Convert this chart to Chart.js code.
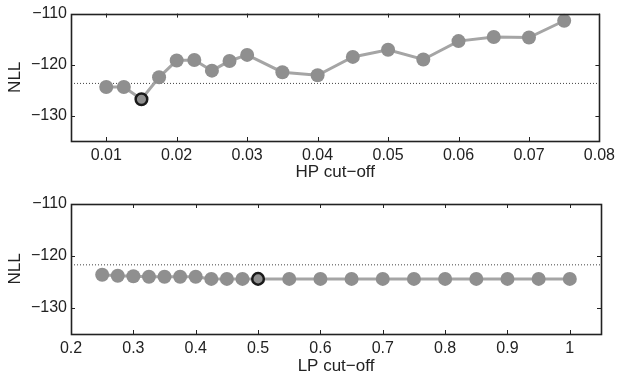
<!DOCTYPE html>
<html>
<head>
<meta charset="utf-8">
<script src="https://cdn.jsdelivr.net/npm/chart.js@4"></script>
<style>
  body { margin: 0; background: #fff; }
  .wrap { position: absolute; left: 0; width: 620px; height: 189px; }
</style>
</head>
<body>
<div class="wrap" style="top:0"><canvas id="hpChart" width="620" height="189"></canvas></div>
<div class="wrap" style="top:189px"><canvas id="lpChart" width="620" height="189"></canvas></div>
<script>
// HP cut-off sweep
var hpCutoff = [0.01, 0.0125, 0.015, 0.0175, 0.02, 0.0225, 0.025, 0.0275, 0.03, 0.035, 0.04, 0.045, 0.05, 0.055, 0.06, 0.065, 0.07, 0.075];
var hpNLL = [-124.4, -124.4, -126.8, -122.5, -119.2, -119.1, -121.2, -119.3, -118.1, -121.5, -122.1, -118.5, -117.1, -119.0, -115.4, -114.6, -114.7, -111.4];
var hpBest = 0.015;
var hpBaseline = -123.7;
var hpTicks = [0.01, 0.02, 0.03, 0.04, 0.05, 0.06, 0.07, 0.08];

// LP cut-off sweep
var lpCutoff = [0.25, 0.275, 0.3, 0.325, 0.35, 0.375, 0.4, 0.425, 0.45, 0.475, 0.5, 0.55, 0.6, 0.65, 0.7, 0.75, 0.8, 0.85, 0.9, 0.95, 1];
var lpNLL = [-123.6, -123.8, -123.9, -124.0, -124.0, -124.0, -124.0, -124.4, -124.4, -124.4, -124.4, -124.4, -124.4, -124.4, -124.4, -124.4, -124.4, -124.4, -124.4, -124.4, -124.4];
var lpBest = 0.5;
var lpBaseline = -121.7;
var lpTicks = [0.2, 0.3, 0.4, 0.5, 0.6, 0.7, 0.8, 0.9, 1];

var nllTicks = [-130, -120, -110];

var FONT = "'Liberation Sans', Arial, sans-serif";
var INK = "#222";
var DOT = "#8f8f8f";
var LINE = "#a5a5a5";

// box round the plot with inward ticks, MATLAB style
var boxPlugin = {
  id: "box",
  afterDatasetsDraw: function (chart) {
    var a = chart.chartArea;
    var c = chart.ctx;
    var xs = chart.scales.x, ys = chart.scales.y;
    c.save();
    c.strokeStyle = INK;
    c.lineWidth = 1;
    c.beginPath();
    xs.ticks.forEach(function (t) {
      var px = Math.round(xs.getPixelForValue(t.value)) + 0.5;
      c.moveTo(px, a.bottom); c.lineTo(px, a.bottom - 4);
      c.moveTo(px, a.top); c.lineTo(px, a.top + 4);
    });
    ys.ticks.forEach(function (t) {
      var py = Math.round(ys.getPixelForValue(t.value)) + 0.5;
      c.moveTo(a.left, py); c.lineTo(a.left + 4, py);
      c.moveTo(a.right, py); c.lineTo(a.right - 4, py);
    });
    c.stroke();
    c.lineWidth = 1.6;
    c.strokeRect(Math.round(a.left) + 0.5, Math.round(a.top) + 0.5, Math.round(a.right - a.left), Math.round(a.bottom - a.top));
    c.restore();
  }
};

function makeChart(id, xs, ys, best, baseline, xMin, xMax, xTicks, xTitle, padTop, xHeight, titlePad) {
  var pts = xs.map(function (x, i) { return { x: x, y: ys[i] }; });
  var ctx = document.getElementById(id).getContext("2d");
  return new Chart(ctx, {
    type: "line",
    data: {
      datasets: [
        {
          data: pts,
          borderColor: LINE,
          borderWidth: 3,
          backgroundColor: DOT,
          pointBackgroundColor: DOT,
          pointBorderColor: function (c) { return c.raw && c.raw.x === best ? "#1a1a1a" : DOT; },
          pointBorderWidth: function (c) { return c.raw && c.raw.x === best ? 2.5 : 0; },
          pointRadius: function (c) { return c.raw && c.raw.x === best ? 5.8 : 7; },
          pointHoverRadius: 7,
          tension: 0,
        },
        {
          data: [{ x: xMin, y: baseline }, { x: xMax, y: baseline }],
          borderColor: "#444",
          borderWidth: 1,
          borderDash: [1, 2],
          pointRadius: 0,
        },
      ],
    },
    options: {
      responsive: false,
      animation: false,
      layout: { padding: { top: padTop, right: 19, left: 0, bottom: 0 } },
      plugins: {
        legend: { display: false },
        tooltip: { enabled: false },
      },
      scales: {
        x: {
          type: "linear",
          min: xMin,
          max: xMax,
          afterBuildTicks: function (s) { s.ticks = xTicks.map(function (v) { return { value: v }; }); },
          afterFit: function (s) { s.height = xHeight; },
          grid: { display: false, drawTicks: false },
          border: { display: false },
          ticks: {
            padding: 5,
            color: INK,
            font: { family: FONT, size: 16 },
            maxRotation: 0,
            autoSkip: false,
            callback: function (v) { return String(v); },
          },
          title: {
            display: true,
            text: xTitle,
            color: INK,
            font: { family: FONT, size: 17 },
            padding: { top: 0, bottom: titlePad },
          },
        },
        y: {
          min: -135,
          max: -110,
          afterBuildTicks: function (s) { s.ticks = nllTicks.map(function (v) { return { value: v }; }); },
          afterFit: function (s) { s.width = 71; },
          grid: { display: false, drawTicks: false },
          border: { display: false },
          ticks: {
            padding: 4,
            color: INK,
            font: { family: FONT, size: 16 },
            callback: function (v) { return String(v).replace("-", "\u2212"); },
          },
          title: {
            display: true,
            text: "NLL",
            color: INK,
            font: { family: FONT, size: 17 },
            padding: { top: 5, bottom: 0 },
          },
        },
      },
    },
    plugins: [boxPlugin],
  });
}

makeChart("hpChart", hpCutoff, hpNLL, hpBest, hpBaseline, 0.005, 0.08, hpTicks, "HP cut\u2212off", 11, 48, 6);
makeChart("lpChart", lpCutoff, lpNLL, lpBest, lpBaseline, 0.2, 1.05, lpTicks, "LP cut\u2212off", 15, 44, 1);
</script>
</body>
</html>
